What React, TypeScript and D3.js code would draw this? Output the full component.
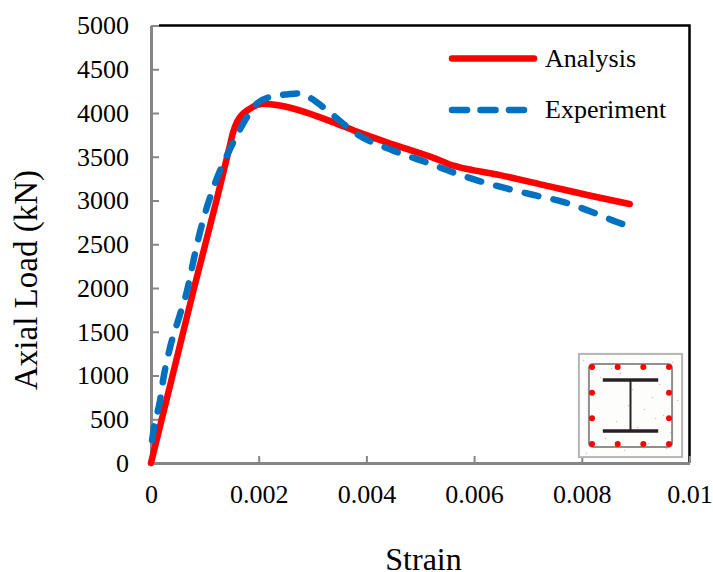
import React, { useEffect, useRef } from 'react';
import * as d3 from 'd3';

const xTicks = [0, 0.002, 0.004, 0.006, 0.008, 0.01];
const yTicks = [0, 500, 1000, 1500, 2000, 2500, 3000, 3500, 4000, 4500, 5000];

const analysisStrain = [0, 0.0004, 0.0008, 0.00122, 0.00147, 0.00152, 0.0016, 0.00184, 0.00208, 0.00239, 0.00289, 0.00338, 0.00382, 0.00462, 0.0054, 0.00555, 0.0057, 0.00648, 0.0073, 0.00827, 0.00889];
const analysisLoad = [0, 1000, 2000, 3010, 3640, 3770, 3900, 4050, 4105, 4085, 4005, 3895, 3787, 3615, 3450, 3410, 3385, 3290, 3175, 3040, 2960];

const experimentStrain = [0.00002, 0.00006, 0.00017, 0.00022, 0.00035, 0.00054, 0.00067, 0.00076, 0.00087, 0.00119, 0.00143, 0.00165, 0.00182, 0.00197, 0.00226, 0.00255, 0.00276, 0.00295, 0.00332, 0.00382, 0.0045, 0.00514, 0.00564, 0.00614, 0.00662, 0.00716, 0.00765, 0.00814, 0.00865, 0.0088];
const experimentLoad = [260, 420, 720, 930, 1310, 1700, 1970, 2230, 2540, 3200, 3540, 3810, 3990, 4110, 4190, 4215, 4225, 4175, 4005, 3760, 3570, 3430, 3315, 3215, 3135, 3055, 2985, 2880, 2755, 2723];

const legendNames = ['Analysis', 'Experiment'];

// inset section, positions as fractions of the section
const rebarPos = [0, 1 / 3, 2 / 3, 1];
const speckX = [0.03, 0.12, 0.2, 0.31, 0.44, 0.52, 0.61, 0.72, 0.83, 0.92, 0.08, 0.36, 0.57, 0.79, 0.25, 0.68, 0.9, 0.15, 0.48, 0.75, 0.97, 0.4, 0.06, 0.64, 0.86];
const speckY = [0.05, 0.9, 0.22, 0.13, 0.95, 0.34, 0.11, 0.42, 0.6, 0.07, 0.55, 0.66, 0.72, 0.29, 0.83, 0.88, 0.77, 0.38, 0.5, 0.63, 0.45, 0.18, 0.98, 0.54, 0.93];

const App = () => {
  const svgRef = useRef<SVGSVGElement>(null);

  useEffect(() => {
    const svg = d3.select(svgRef.current);
    svg.selectAll('*').remove();

    const font = '"Liberation Serif", serif';
    const axisColor = '#868686';

    const x = d3.scaleLinear().domain([0, 0.01]).range([151, 689.5]);
    const y = d3.scaleLinear().domain([0, 5000]).range([463, 25.5]);

    const line = d3.line<number>()
      .x(d => x(d))
      .curve(d3.curveMonotoneX);

    // black top and right edges of the plot frame
    svg.append('path')
      .attr('d', `M${x(0) + 8},${y(5000)}H${x(0.01)}V${y(0)}`)
      .attr('fill', 'none').attr('stroke', '#000').attr('stroke-width', 2.5);

    const xAxis = svg.append('g')
      .attr('transform', `translate(0,${y(0)})`)
      .call(d3.axisBottom(x).tickValues(xTicks).tickSizeInner(-7).tickSizeOuter(0).tickPadding(21.5).tickFormat(d => String(+d)));
    const yAxis = svg.append('g')
      .attr('transform', `translate(${x(0)},0)`)
      .call(d3.axisLeft(y).tickValues(yTicks).tickSizeInner(-8).tickSizeOuter(0).tickPadding(22).tickFormat(d => String(d)));

    [xAxis, yAxis].forEach(a => {
      a.selectAll('path').attr('stroke', axisColor).attr('stroke-width', 3);
      a.selectAll('line').attr('stroke', axisColor).attr('stroke-width', 2);
      a.selectAll('text').attr('font-family', font).attr('font-size', 26).attr('fill', '#000');
    });

    // inset section picture in the lower right corner
    const inset = svg.append('g');
    const sx = d3.scaleLinear().domain([0, 1]).range([592, 669]);
    const sy = d3.scaleLinear().domain([0, 1]).range([367, 444]);
    inset.append('rect')
      .attr('x', sx(-0.17)).attr('y', sy(-0.17))
      .attr('width', sx(1.17) - sx(-0.17)).attr('height', sy(1.17) - sy(-0.17))
      .attr('fill', '#fdfdfc').attr('stroke', '#b5b5b5').attr('stroke-width', 2);
    inset.selectAll('.speck').data(speckX).join('circle')
      .attr('class', 'speck')
      .attr('cx', d => sx(d * 1.3 - 0.15))
      .attr('cy', (_, i) => sy(speckY[i] * 1.3 - 0.15))
      .attr('r', 0.8).attr('fill', '#c9c9b8');
    inset.append('rect')
      .attr('x', sx(-0.04)).attr('y', sy(-0.04))
      .attr('width', sx(1.04) - sx(-0.04)).attr('height', sy(1.04) - sy(-0.04))
      .attr('rx', 4).attr('fill', 'none').attr('stroke', '#8f8f8f').attr('stroke-width', 2);
    [0.17, 0.83].forEach(f => {
      inset.append('line')
        .attr('x1', sx(0.14)).attr('x2', sx(0.86))
        .attr('y1', sy(f)).attr('y2', sy(f))
        .attr('stroke', '#2a1f24').attr('stroke-width', 3.5);
    });
    inset.append('line')
      .attr('x1', sx(0.5)).attr('x2', sx(0.5))
      .attr('y1', sy(0.17)).attr('y2', sy(0.83))
      .attr('stroke', '#2a1f24').attr('stroke-width', 2);
    const rebars = d3.cross(rebarPos, rebarPos)
      .filter(([a, b]) => a === 0 || a === 1 || b === 0 || b === 1);
    inset.selectAll('.bar').data(rebars).join('circle')
      .attr('class', 'bar')
      .attr('cx', d => sx(d[0])).attr('cy', d => sy(d[1]))
      .attr('r', 3).attr('fill', '#f00');

    svg.append('path')
      .attr('d', line.y((_, i) => y(analysisLoad[i]))(analysisStrain))
      .attr('fill', 'none').attr('stroke', '#ff0000').attr('stroke-width', 6.5)
      .attr('stroke-linecap', 'round').attr('stroke-linejoin', 'round');
    svg.append('path')
      .attr('d', line.y((_, i) => y(experimentLoad[i]))(experimentStrain))
      .attr('fill', 'none').attr('stroke', '#0070c0').attr('stroke-width', 6.5)
      .attr('stroke-dasharray', '14 15.5')
      .attr('stroke-linecap', 'round').attr('stroke-linejoin', 'round');

    // legend
    const legendY = d3.scalePoint<string>().domain(legendNames).range([58.5, 110]);
    const legend = svg.append('g');
    legendNames.forEach((name, i) => {
      legend.append('line')
        .attr('x1', 452).attr('x2', i === 0 ? 534 : 524)
        .attr('y1', legendY(name)!).attr('y2', legendY(name)!)
        .attr('stroke', i === 0 ? '#ff0000' : '#0070c0')
        .attr('stroke-width', 6.5).attr('stroke-linecap', 'round')
        .attr('stroke-dasharray', i === 0 ? null : '15 13.5');
      legend.append('text')
        .attr('x', 545).attr('y', legendY(name)! + 8)
        .attr('font-family', font).attr('font-size', 26)
        .text(name);
    });

    svg.append('text')
      .attr('x', 423.5).attr('y', 570)
      .attr('text-anchor', 'middle')
      .attr('font-family', font).attr('font-size', 32)
      .text('Strain');
    svg.append('text')
      .attr('transform', 'translate(37,280) rotate(-90)')
      .attr('text-anchor', 'middle')
      .attr('font-family', font).attr('font-size', 33)
      .text('Axial Load (kN)');
  }, []);

  return (
    <svg
      ref={svgRef}
      width={713}
      height={572}
      style={{ position: 'absolute', left: 0, top: 0, background: '#fff' }}
    />
  );
};

export default App;
